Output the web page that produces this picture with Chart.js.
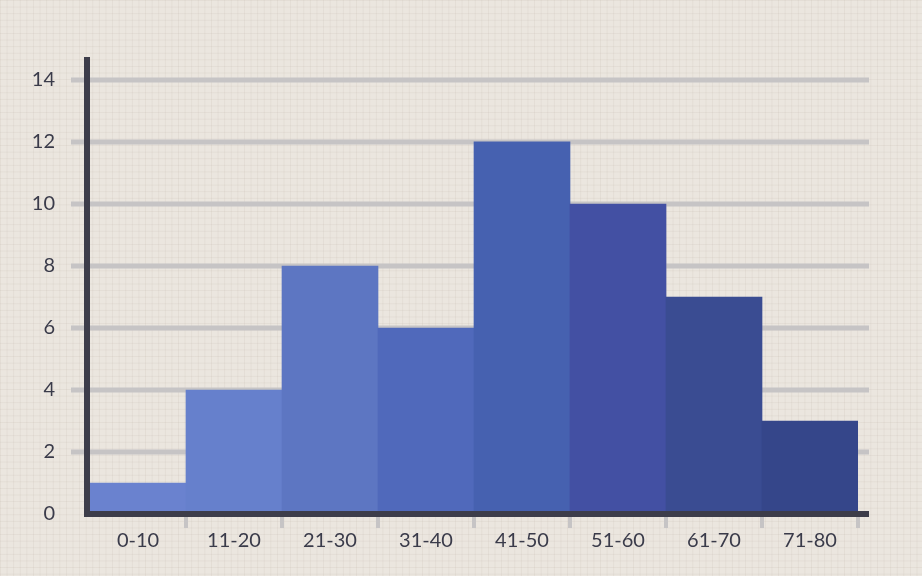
<!DOCTYPE html>
<html>
<head>
<meta charset="utf-8">
<script src="https://cdn.jsdelivr.net/npm/chart.js@4/dist/chart.umd.min.js"></script>
<style>
html, body { margin: 0; padding: 0; }
body {
    width: 922px; height: 576px; overflow: hidden;
    background-color: #ebe6df;
    background-image:
        linear-gradient(to right, rgba(200,190,178,0.22) 1px, transparent 1px),
        linear-gradient(to bottom, rgba(200,190,178,0.22) 1px, transparent 1px);
    background-size: 6.6px 6.6px;
}
#histChart { display: block; }
</style>
</head>
<body>
<canvas id="histChart" width="922" height="576"></canvas>
<script>
// age groups and counts
var ageGroups = ["0-10", "11-20", "21-30", "31-40", "41-50", "51-60", "61-70", "71-80"];
var counts = [1, 4, 8, 6, 12, 10, 7, 3];
var barColors = ["#6a82cf", "#6680cc", "#5d76c2", "#5069bb", "#4661b0", "#4350a3", "#3a4c92", "#35468a"];
var yTicks = [0, 2, 4, 6, 8, 10, 12, 14];

var axisColor = "#3d3d4a";
var gridColor = "#c6c4c5";
var labelFont = { family: "Lato", size: 20, weight: "normal" };

// grid lines run a bit past the bars on both sides
var gridPlugin = {
    id: "gridLines",
    beforeDatasetsDraw: function(chart) {
        var ctx = chart.ctx, area = chart.chartArea, y = chart.scales.y;
        ctx.save();
        ctx.strokeStyle = gridColor;
        ctx.lineWidth = 5;
        yTicks.forEach(function(v) {
            if (v === 0) return;
            var py = y.getPixelForValue(v);
            ctx.beginPath();
            ctx.moveTo(71, py);
            ctx.lineTo(area.right + 11, py);
            ctx.stroke();
        });
        ctx.restore();
    },
    afterDatasetsDraw: function(chart) {
        var ctx = chart.ctx, area = chart.chartArea, y = chart.scales.y;
        var y0 = y.getPixelForValue(0);
        ctx.save();
        ctx.strokeStyle = axisColor;
        ctx.lineWidth = 6;
        ctx.beginPath();
        ctx.moveTo(area.left - 3, area.top);
        ctx.lineTo(area.left - 3, y0 + 3);
        ctx.stroke();
        ctx.beginPath();
        ctx.moveTo(area.left - 6, y0);
        ctx.lineTo(area.right + 11, y0);
        ctx.stroke();
        ctx.restore();
    }
};

new Chart("histChart", {
    type: "bar",
    data: {
        labels: ageGroups,
        datasets: [{
            data: counts,
            backgroundColor: barColors,
            borderWidth: 0,
            categoryPercentage: 1.0,
            barPercentage: 1.0
        }]
    },
    options: {
        responsive: false,
        animation: false,
        devicePixelRatio: 1,
        layout: { padding: { top: 57, right: 64, left: 0, bottom: 0 } },
        plugins: { legend: { display: false }, tooltip: { enabled: false } },
        scales: {
            x: {
                grid: {
                    display: true,
                    drawOnChartArea: false,
                    drawTicks: true,
                    tickLength: 14,
                    color: function(c) { return c.index === 0 ? "rgba(0,0,0,0)" : gridColor; },
                    lineWidth: 4
                },
                border: { display: false },
                ticks: {
                    color: "#3a3b4a",
                    padding: 1,
                    autoSkip: false,
                    maxRotation: 0,
                    font: labelFont
                },
                afterFit: function(scale) { scale.height = 62; }
            },
            y: {
                min: 0,
                max: 14.74,
                grid: { display: false, drawTicks: false },
                border: { display: false },
                ticks: {
                    color: "#3a3b4a",
                    padding: 35,
                    font: labelFont
                },
                afterBuildTicks: function(scale) {
                    scale.ticks = yTicks.map(function(v) { return { value: v }; });
                },
                afterFit: function(scale) { scale.width = 90; }
            }
        }
    },
    plugins: [gridPlugin]
});
</script>
</body>
</html>
